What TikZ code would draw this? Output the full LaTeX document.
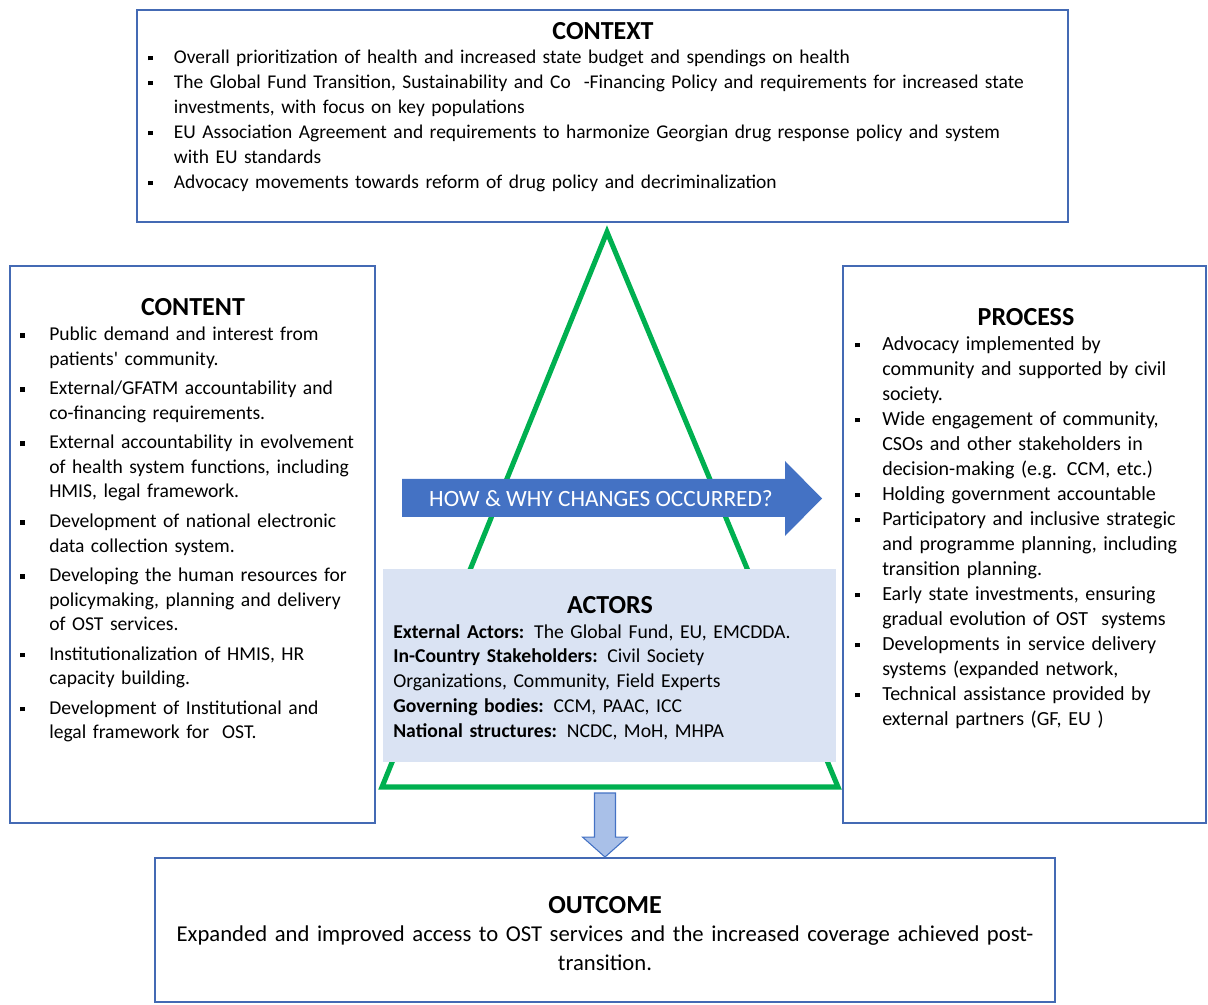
\documentclass[tikz,border=0pt]{standalone}
\usepackage{fontspec}
\setmainfont{Carlito}
\usetikzlibrary{calc,fit}

\definecolor{frameblue}{RGB}{68,106,180}
\definecolor{arrowblue}{RGB}{68,114,196}
\definecolor{trigreen}{RGB}{0,176,80}
\definecolor{actorfill}{RGB}{218,227,243}
\definecolor{downfill}{RGB}{169,192,232}

\newlength\bulhang
\newlength\bulgap
\newcommand\blt{\par\vspace{\bulgap}\noindent\hangindent=\bulhang\hangafter=1%
  \makebox[\bulhang][l]{\hspace{2pt}\raisebox{0.3ex}{\rule{3.6pt}{3.6pt}}}\ignorespaces}

\tikzset{
  frame/.style={draw=frameblue, line width=1.4pt, fill=white, inner sep=0pt},
  heading/.style={font=\fontsize{19.5}{22}\selectfont\bfseries, inner sep=0pt},
  blurb/.style={anchor=north west, inner sep=0pt, align=left},
}

\begin{document}
\begin{tikzpicture}[x=0.75pt,y=-0.75pt]
\useasboundingbox (0,0) rectangle (1208,1005);

% the triangle sits behind the arrow and the actors
\coordinate (apex) at (607,232);
\coordinate (baseL) at (382,787);
\coordinate (baseR) at (838,787);
\draw[trigreen, line width=3.8pt] (apex) -- (baseL) -- (baseR) -- cycle;

% boxes
\node[frame, fit={(137,10) (1068,222)}] (context) {};
\node[frame, fit={(10,266) (375,823)}] (content) {};
\node[frame, fit={(843,266) (1206,823)}] (process) {};
\node[frame, fit={(155,858) (1055,1002)}] (outcome) {};
\node[fill=actorfill, inner sep=0pt, fit={(383,569) (836,762)}] (actors) {};

% headings
\node[heading] (contexthead) at (603,31) {CONTEXT};
\node[heading] (contenthead) at (193,307) {CONTENT};
\node[heading] (processhead) at (1026,317) {PROCESS};
\node[heading] (actorshead) at (610,605) {ACTORS};
\node[heading] (outcomehead) at (605,905) {OUTCOME};

% lists
\node[blurb, text width=700pt, font=\fontsize{14.6}{18.75}\selectfont] (contextlist) at (145,38) {%
  \setlength\bulhang{21.5pt}\setlength\bulgap{0pt}%
  \blt Overall prioritization of health and increased state budget and spendings on health
  \blt The Global Fund Transition, Sustainability and Co\ \ -Financing Policy and requirements for increased state\newline
       investments, with focus on key populations
  \blt EU Association Agreement and requirements to harmonize Georgian drug response policy and system\newline
       with EU standards
  \blt Advocacy movements towards reform of drug policy and decriminalization\par};

\node[blurb, text width=272pt, font=\fontsize{14.7}{18.4}\selectfont] (contentlist) at (17,311) {%
  \setlength\bulhang{24pt}\setlength\bulgap{3.75pt}%
  \blt Public demand and interest from\newline patients\textquotesingle{} community.
  \blt External/GFATM accountability and\newline co-financing requirements.
  \blt External accountability in evolvement\newline of health system functions, including\newline HMIS, legal framework.
  \blt Development of national electronic\newline data collection system.
  \blt Developing the human resources for\newline policymaking, planning and delivery\newline of OST services.
  \blt Institutionalization of HMIS, HR\newline capacity building.
  \blt Development of Institutional and\newline legal framework for\ \ OST.\par};

\node[blurb, text width=262pt, font=\fontsize{15}{18.75}\selectfont] (processlist) at (852,325) {%
  \setlength\bulhang{22.5pt}\setlength\bulgap{0pt}%
  \blt Advocacy implemented by\newline community and supported by civil\newline society.
  \blt Wide engagement of community,\newline CSOs and other stakeholders in\newline decision-making (e.g. CCM, etc.)
  \blt Holding government accountable
  \blt Participatory and inclusive strategic\newline and programme planning, including\newline transition planning.
  \blt Early state investments, ensuring\newline gradual evolution of OST\ \ systems
  \blt Developments in service delivery\newline systems (expanded network,
  \blt Technical assistance provided by\newline external partners (GF, EU )\par};

\node[blurb, text width=340pt, font=\fontsize{14.75}{18.6}\selectfont] (actorslist) at (393,624) {%
  \textbf{External Actors:} The Global Fund, EU, EMCDDA.\\
  \textbf{In-Country Stakeholders:} Civil Society\\
  Organizations, Community, Field Experts\\
  \textbf{Governing bodies:} CCM, PAAC, ICC\\
  \textbf{National structures:} NCDC, MoH, MHPA};

\node[anchor=north, inner sep=0pt, text width=700pt, align=center,
      font=\fontsize{17}{21.75}\selectfont] (outcometext) at (605,925) {%
  Expanded and improved access to OST services and the increased coverage achieved post-\\ transition.};

% how & why arrow
\fill[arrowblue] (402,479) -- (785,479) -- (785,461) -- (822,498.5) -- (785,536) -- (785,517) -- (402,517) -- cycle;
\node[text=white, inner sep=0pt, font=\fontsize{17.5}{20}\selectfont] (how) at (601,499) {HOW \& WHY CHANGES OCCURRED?};

% down arrow into the outcome
\coordinate (dtop) at (605,793);
\draw[arrowblue, fill=downfill, line width=0.8pt]
  ($(dtop)+(-10.5,0)$) -- ($(dtop)+(10.5,0)$) -- ($(outcome.north)+(10.5,-20)$)
  -- ($(outcome.north)+(22.5,-20)$) -- (outcome.north) -- ($(outcome.north)+(-22.5,-20)$)
  -- ($(outcome.north)+(-10.5,-20)$) -- cycle;

\end{tikzpicture}
\end{document}
